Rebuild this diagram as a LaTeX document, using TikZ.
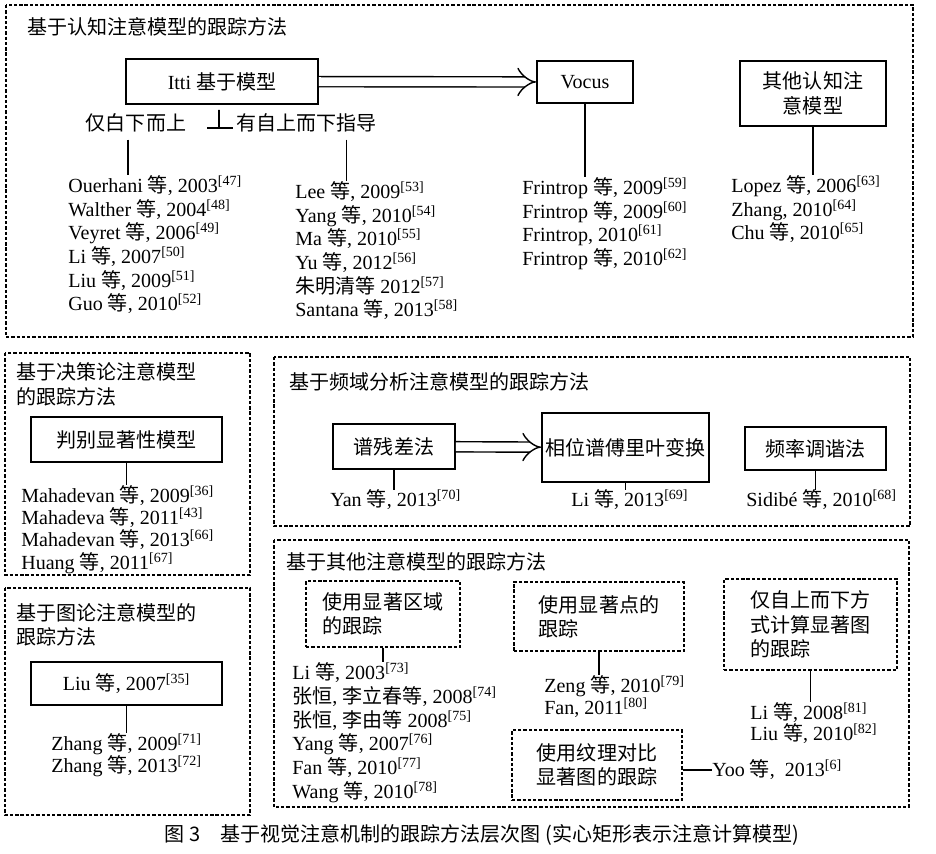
\documentclass[tikz,border=0pt]{standalone}
\usepackage{fontspec}
\setmainfont{Liberation Serif}
\newfontfamily\cjk{Noto Sans CJK SC}
\usetikzlibrary{arrows.meta,positioning,calc}

\newcommand\deng{{\cjk 等}}
\newcommand\rf[1]{\textsuperscript{[#1]}}

\begin{document}
\begin{tikzpicture}[
    x=0.02cm, y=-0.02cm,
    every node/.style={font=\fontsize{11.4}{13.5}\selectfont, inner sep=0pt},
    frame/.style={draw, line width=0.8pt, dash pattern=on 1.9pt off 1.1pt},
    model/.style={rectangle, draw, line width=1.1pt, align=center},
    sub/.style={rectangle, draw, line width=0.8pt, dash pattern=on 1.9pt off 1.1pt, align=left, font=\fontsize{11.4}{13.8}\selectfont\cjk},
    heading/.style={anchor=north west, align=left, font=\fontsize{11.4}{#1}\selectfont\cjk},
    heading/.default=14pt,
    refs/.style={anchor=north west, align=left, font=\fontsize{11.4}{#1}\selectfont},
    refs/.default=13.5pt,
    ln/.style={line width=1pt},
    arr/.style={double, double distance=5pt, line width=0.8pt, -{Implies}}
]
\useasboundingbox (0,0) rectangle (936,853);

% frames
\draw[frame] (6,5) rectangle (913,337);
\draw[frame] (5,353) rectangle (250,575);
\draw[frame] (5,588) rectangle (250,815);
\draw[frame] (274,357) rectangle (910,526);
\draw[frame] (274,540) rectangle (909,807);

% cognitive models
\node[heading] (cogT) at (27,17) {基于认知注意模型的跟踪方法};
\node[model, minimum width=3.84cm, minimum height=0.9cm] (itti) at (222,81.5) {Itti {\cjk 基于模型}};
\node[model, minimum width=1.92cm, minimum height=0.84cm] (vocus) at (585,82) {Vocus};
\node[model, minimum width=2.92cm, minimum height=1.3cm, font=\fontsize{11.4}{14.5}\selectfont\cjk] (othercog) at (813,93.5) {其他认知注\\意模型};
\node[font=\fontsize{11.4}{13.5}\selectfont\cjk] (bu) at (136,123) {仅白下而上};
\node[font=\fontsize{11.4}{13.5}\selectfont\cjk] (td) at (306.5,123) {有自上而下指导};
\coordinate (tee) at (219,128);

\node[refs] (bulist) at (68,175) {Ouerhani \deng, 2003\rf{47}\\
  Walther \deng, 2004\rf{48}\\
  Veyret \deng, 2006\rf{49}\\
  Li \deng, 2007\rf{50}\\
  Liu \deng, 2009\rf{51}\\
  Guo \deng, 2010\rf{52}};
\node[refs] (tdlist) at (295,181) {Lee \deng, 2009\rf{53}\\
  Yang \deng, 2010\rf{54}\\
  Ma \deng, 2010\rf{55}\\
  Yu \deng, 2012\rf{56}\\
  {\cjk 朱明清等} 2012\rf{57}\\
  Santana \deng, 2013\rf{58}};
\node[refs] (frin) at (522,177) {Frintrop \deng, 2009\rf{59}\\
  Frintrop \deng, 2009\rf{60}\\
  Frintrop, 2010\rf{61}\\
  Frintrop \deng, 2010\rf{62}};
\node[refs] (lopez) at (731,175) {Lopez \deng, 2006\rf{63}\\
  Zhang, 2010\rf{64}\\
  Chu \deng, 2010\rf{65}};

\draw[ln] ([xshift=-0.06cm,yshift=-0.1cm]itti.south) -- (tee);
\draw[ln] ($(tee)+(-12,0)$) -- ($(tee)+(14,0)$);
\draw[arr] (itti) -- (vocus);
\coordinate (buFoot) at ($(bu.south)+(-8,7)$);
\coordinate (tdFoot) at ($(td.south)+(40,7)$);
\draw[ln] (buFoot) -- (buFoot |- bulist.north);
\draw[ln] (tdFoot) -- (tdFoot |- tdlist.north);
\draw[ln] (vocus.south) -- (vocus.south |- frin.north);
\draw[ln] (othercog.south) -- (othercog.south |- lopez.north);

% decision theory
\node[heading=14.2pt] (decT) at (16,362) {基于决策论注意模型\\的跟踪方法};
\node[model, minimum width=3.82cm, minimum height=0.9cm, font=\fontsize{11.4}{13.5}\selectfont\cjk] (judge) at (126.5,439.5) {判别显著性模型};
\node[refs=12.7pt] (mahad) at (21,485) {Mahadevan \deng, 2009\rf{36}\\
  Mahadeva \deng, 2011\rf{43}\\
  Mahadevan \deng, 2013\rf{66}\\
  Huang \deng, 2011\rf{67}};
\draw[ln] (judge.south) -- (judge.south |- mahad.north);

% graph theory
\node[heading=13.6pt] (graT) at (16,603) {基于图论注意模型的\\跟踪方法};
\node[model, minimum width=3.82cm, minimum height=0.86cm] (liu) at (126.5,683.5) {Liu \deng, 2007\rf{35}};
\node[refs=12.8pt] (zhang) at (51,733) {Zhang \deng, 2009\rf{71}\\
  Zhang \deng, 2013\rf{72}};
\draw[ln] (liu.south) -- (liu.south |- zhang.north);

% frequency domain
\node[heading] (freT) at (289,372) {基于频域分析注意模型的跟踪方法};
\node[model, minimum width=2.44cm, minimum height=0.9cm, font=\fontsize{11.4}{13.5}\selectfont\cjk] (resid) at (394,446.5) {谱残差法};
\node[model, minimum width=3.34cm, minimum height=1.38cm, font=\fontsize{11.4}{13.5}\selectfont\cjk] (phase) at (625.5,447.5) {相位谱傅里叶变换};
\node[model, minimum width=2.82cm, minimum height=0.86cm, font=\fontsize{11.4}{13.5}\selectfont\cjk] (tune) at (815.5,448.5) {频率调谐法};
\node[anchor=west] (yan) at (330,500) {Yan \deng, 2013\rf{70}};
\node[anchor=west] (li13) at (571,500) {Li \deng, 2013\rf{69}};
\node[anchor=west] (sidibe) at (746,500) {Sidibé \deng, 2010\rf{68}};
\draw[arr] (resid) -- (phase);
\draw[ln] (resid.south) -- (resid.south |- yan.north);
\draw[ln] (phase.south) -- (phase.south |- li13.north);
\draw[ln] (tune.south) -- (tune.south |- sidibe.north);

% other models
\node[heading] (othT) at (286,552) {基于其他注意模型的跟踪方法};
\node[sub, minimum width=3.08cm, minimum height=1.32cm] (region) at (383,614) {使用显著区域\\的跟踪};
\node[sub, minimum width=3.4cm, minimum height=1.38cm] (point) at (599,616.5) {使用显著点的\\跟踪};
\node[sub, minimum width=3.46cm, minimum height=1.82cm] (topdown) at (810.5,624.5) {仅自上而下方\\式计算显著图\\的跟踪};
\node[sub, minimum width=3.4cm, minimum height=1.4cm] (texture) at (597,765) {使用纹理对比\\显著图的跟踪};
\node[refs=13.6pt] (regref) at (292,662) {Li \deng, 2003\rf{73}\\
  {\cjk 张恒}, {\cjk 李立春等}, 2008\rf{74}\\
  {\cjk 张恒}, {\cjk 李由等} 2008\rf{75}\\
  Yang \deng, 2007\rf{76}\\
  Fan \deng, 2010\rf{77}\\
  Wang \deng, 2010\rf{78}};
\node[refs=12.5pt] (zeng) at (544,675) {Zeng \deng, 2010\rf{79}\\
  Fan, 2011\rf{80}};
\node[refs=12pt] (li08) at (750,702) {Li \deng, 2008\rf{81}\\
  Liu \deng, 2010\rf{82}};
\node[anchor=west] (yoo) at (712,770) {Yoo \deng,\ \ 2013\rf{6}};
\draw[ln] (region.south) -- (region.south |- regref.north);
\draw[ln] (point.south) -- (point.south |- zeng.north);
\draw[ln] (topdown.south) -- (topdown.south |- li08.north);
\draw[ln] (texture.east |- yoo) -- (yoo.west);

% caption
\node[font=\fontsize{11.4}{13.5}\selectfont\cjk] (cap) at (482,835) {图 3\quad 基于视觉注意机制的跟踪方法层次图 (实心矩形表示注意计算模型)};
\end{tikzpicture}
\end{document}
